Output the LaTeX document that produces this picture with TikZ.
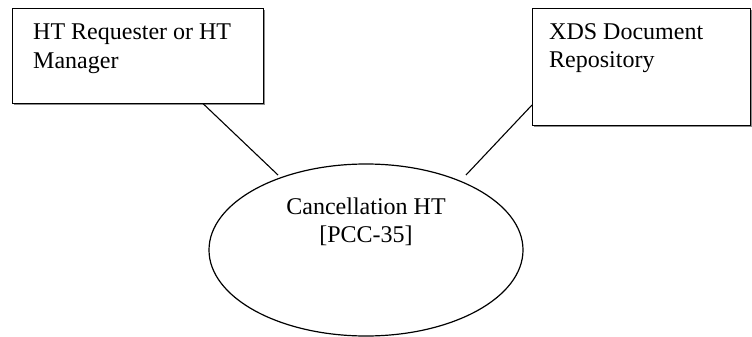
\documentclass[tikz,border=0pt]{standalone}
\usepackage{fontspec}
\setmainfont{Liberation Serif}
\usetikzlibrary{shapes.geometric,shadows}
\begin{document}
\begin{tikzpicture}[x=1pt,y=-1pt,
  boxshape/.style={draw=black,line width=1.2pt,fill=white,rectangle,inner sep=0pt,anchor=north west,
    drop shadow={shadow xshift=1.2pt,shadow yshift=-1.2pt,fill=black!45,opacity=1}},
  txt/.style={inner sep=0pt,font=\fontsize{24}{28.5}\selectfont},
  conn/.style={draw=black,line width=1.1pt}]
\useasboundingbox (0,0) rectangle (752,337);
\node[boxshape,minimum width=251pt,minimum height=95pt] (req) at (12,8) {};
\node[boxshape,minimum width=218pt,minimum height=117pt] (repo) at (532,8) {};
\node[draw=black,line width=1.2pt,ellipse,inner sep=0pt,minimum width=314pt,minimum height=172pt] (tx) at (366,250) {};
\node[txt,anchor=north west,align=left] (reqtext) at (33,23.8) {HT Requester or HT\\Manager};
\node[txt,anchor=north west,align=left] (repotext) at (549,23.3) {XDS Document\\Repository};
\node[txt,anchor=north,align=center] (txtext) at (366,197.5) {Cancellation HT\\{[PCC-35]}};
\coordinate (c1) at (203,103.6);
\coordinate (c2) at (278,175);
\coordinate (c3) at (532,105);
\coordinate (c4) at (466,175);
\draw[conn] (c1) -- (c2);
\draw[conn] (c3) -- (c4);
\end{tikzpicture}
\end{document}
